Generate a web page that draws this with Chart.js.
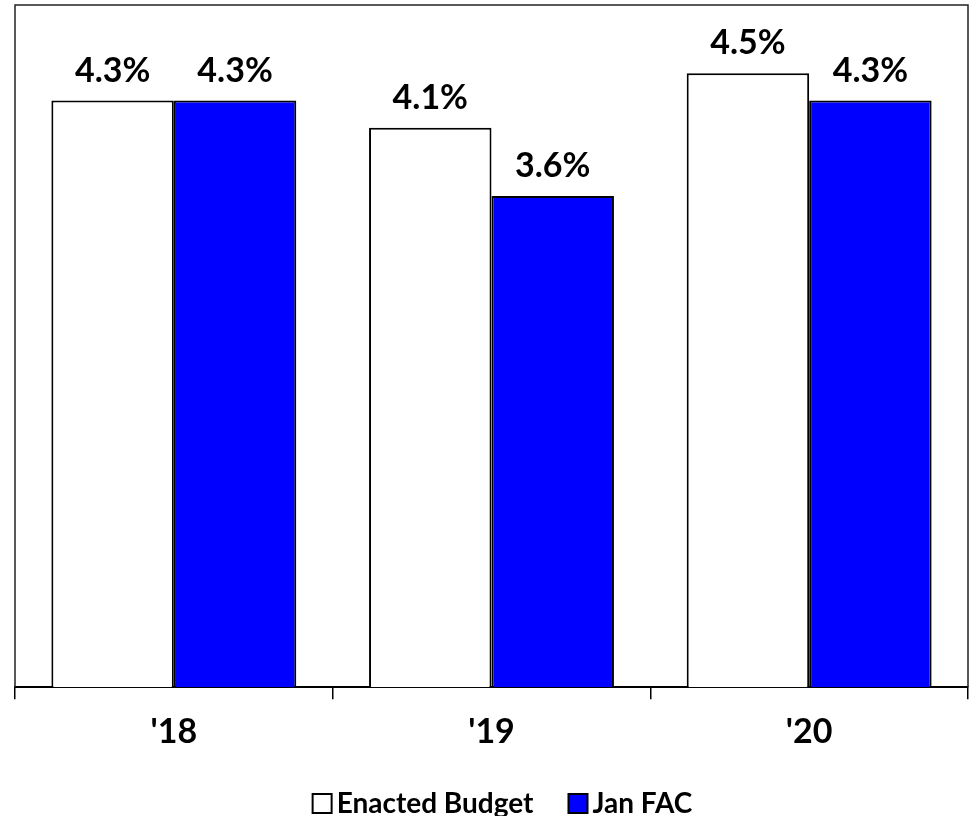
<!DOCTYPE html>
<html>
<head>
<meta charset="utf-8">
<script src="https://cdn.jsdelivr.net/npm/chart.js@4/dist/chart.umd.min.js"></script>
<style>
  html, body { margin: 0; padding: 0; background: #fff; }
  #wrap { width: 969px; height: 816px; position: relative; }
</style>
</head>
<body>
<div id="wrap"><canvas id="c" width="969" height="816"></canvas></div>
<script>
// Fiscal years shown on the x axis
const years = ["'18", "'19", "'20"];
// Growth rates (%) for each forecast
const enactedBudget = [4.3, 4.1, 4.5];
const janFAC = [4.3, 3.6, 4.3];
const seriesNames = ['Enacted Budget', 'Jan FAC'];
const yMin = 0;
const yMax = 5;

const FONT = 'Lato, "Open Sans", sans-serif';

// Thin frame around the plot area
const framePlugin = {
  id: 'frame',
  beforeDatasetsDraw(chart) {
    const { ctx, chartArea: a } = chart;
    ctx.save();
    ctx.strokeStyle = '#222';
    ctx.lineWidth = 1.5;
    ctx.beginPath();
    ctx.moveTo(a.left, a.bottom);
    ctx.lineTo(a.left, a.top);
    ctx.lineTo(a.right, a.top);
    ctx.lineTo(a.right, a.bottom);
    ctx.stroke();
    ctx.restore();
  }
};

// Percentage labels above each bar
const valueLabels = {
  id: 'valueLabels',
  afterDatasetsDraw(chart) {
    const { ctx } = chart;
    ctx.save();
    ctx.font = 'bold 34px ' + FONT;
    ctx.fillStyle = '#000';
    ctx.textAlign = 'center';
    ctx.textBaseline = 'alphabetic';
    chart.data.datasets.forEach((ds, di) => {
      chart.getDatasetMeta(di).data.forEach((bar, i) => {
        ctx.fillText(ds.data[i].toFixed(1) + '%', bar.x, bar.y - 19);
      });
    });
    ctx.restore();
  }
};

// Legend row under the axis labels
const bottomLegend = {
  id: 'bottomLegend',
  afterDraw(chart) {
    const { ctx } = chart;
    ctx.save();
    ctx.font = 'bold 28px ' + FONT;
    const box = 19, gapText = 5, gapItem = 35;
    const items = chart.data.datasets.map(ds => ({
      label: ds.label, fill: ds.backgroundColor, w: ctx.measureText(ds.label).width
    }));
    let total = 0;
    items.forEach((it, i) => { total += box + gapText + it.w + (i < items.length - 1 ? gapItem : 0); });
    let x = chart.width / 2 + 18 - total / 2;
    const baseline = 813;
    items.forEach(it => {
      ctx.fillStyle = it.fill;
      ctx.fillRect(x, baseline - box, box, box);
      ctx.strokeStyle = '#000';
      ctx.lineWidth = 2;
      ctx.strokeRect(x, baseline - box, box, box);
      x += box + gapText;
      ctx.fillStyle = '#000';
      ctx.textAlign = 'left';
      ctx.textBaseline = 'alphabetic';
      ctx.fillText(it.label, x, baseline);
      x += it.w + gapItem;
    });
    ctx.restore();
  }
};

new Chart(document.getElementById('c'), {
  type: 'bar',
  data: {
    labels: years,
    datasets: [
      { label: seriesNames[0], data: enactedBudget, backgroundColor: '#ffffff', borderColor: '#000', borderWidth: 2 },
      { label: seriesNames[1], data: janFAC, backgroundColor: '#0000ff', borderColor: '#000', borderWidth: 2 }
    ]
  },
  options: {
    responsive: false,
    animation: false,
    devicePixelRatio: 1,
    layout: { padding: { left: 15, right: 1, top: 5, bottom: 52 } },
    datasets: { bar: { categoryPercentage: 0.771, barPercentage: 1 } },
    plugins: { legend: { display: false }, tooltip: { enabled: false } },
    scales: {
      x: {
        grid: { display: true, drawOnChartArea: false, drawTicks: true, tickLength: 12, offset: true, color: '#000', lineWidth: 1.5 },
        border: { display: true, color: '#000', width: 2 },
        ticks: { color: '#000', padding: 12, font: { family: FONT, size: 34, weight: 'bold' } }
      },
      y: {
        display: false,
        min: yMin,
        max: yMax
      }
    }
  },
  plugins: [framePlugin, valueLabels, bottomLegend]
});
</script>
</body>
</html>
